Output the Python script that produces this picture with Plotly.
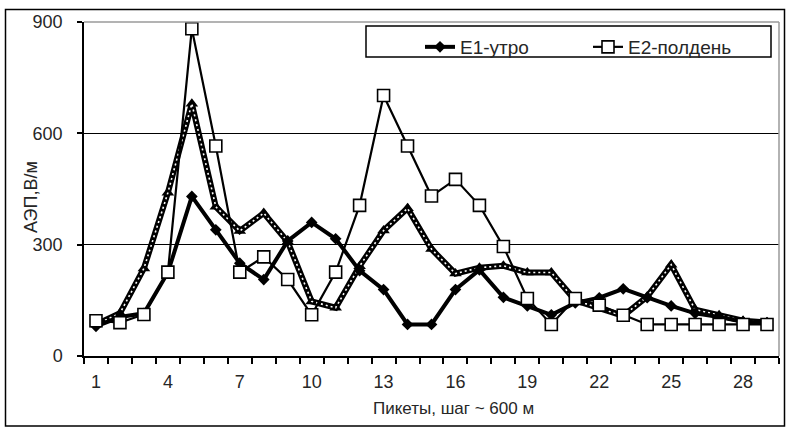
import plotly.graph_objects as go

# ---- data ----
pickets = list(range(1, 30))
e1_morning = [80, 105, 115, 225, 430, 340, 250, 206, 310, 360, 316, 230, 179, 85, 85, 179, 232,
              158, 135, 111, 143, 157, 181, 157, 135, 115, 105, 92, 90]
e2_noon = [95, 90, 112, 226, 882, 566, 226, 267, 206, 111, 226, 406, 702, 566, 431, 476, 406,
           295, 155, 85, 155, 137, 110, 85, 85, 85, 85, 85, 85]
e3_other = [85, 115, 236, 440, 680, 402, 337, 385, 308, 147, 130, 242, 338, 398, 288, 222, 238,
            243, 225, 225, 150, 130, 108, 160, 246, 125, 110, 95, 90]
x_tick_vals = [1, 4, 7, 10, 13, 16, 19, 22, 25, 28]
y_tick_vals = [0, 300, 600, 900]

legend_e1 = "E1-утро"
legend_e2 = "E2-полдень"
x_title = "Пикеты, шаг ~ 600 м"
y_title = "АЭП,В/м"

FONT = "Liberation Sans, Arial, sans-serif"
FS = 18
TXT = "#262626"

fig = go.Figure()

# third series: thick black line with white dotted core, triangles
fig.add_trace(go.Scatter(
    x=pickets, y=e3_other, mode="lines+markers", showlegend=False, name="E3",
    line=dict(color="black", width=6),
    marker=dict(symbol="triangle-up", size=11, color="black"),
))
fig.add_trace(go.Scatter(
    x=pickets, y=e3_other, mode="lines", showlegend=False, name="E3",
    line=dict(color="white", width=1.6, dash="2px,3px"), hoverinfo="skip",
))
fig.add_trace(go.Scatter(
    x=pickets, y=e1_morning, mode="lines+markers", name=legend_e1,
    line=dict(color="black", width=4),
    marker=dict(symbol="diamond", size=9, color="black"),
))
fig.add_trace(go.Scatter(
    x=pickets, y=e2_noon, mode="lines+markers", name=legend_e2,
    line=dict(color="black", width=2.2),
    marker=dict(symbol="square", size=12, color="white", line=dict(color="black", width=1.6)),
))

L, R, T, B = 84, 7, 22, 71
W, H = 786, 427
pw, ph = W - L - R, H - T - B


def px2x(px):
    return (px - L) / pw


def px2y(py):
    return (H - B - py) / ph


fig.update_layout(
    width=W, height=H,
    margin=dict(l=L, r=R, t=T, b=B, pad=0),
    paper_bgcolor="white", plot_bgcolor="white",
    font=dict(family=FONT, size=FS, color=TXT),
    xaxis=dict(
        range=[0.5, 29.5], tickvals=x_tick_vals, ticks="", showgrid=False,
        zeroline=False, showline=True, linecolor="black", linewidth=1.5,
        ticklabelstandoff=9,
        minor=dict(tick0=0.5, dtick=1, ticks="outside", ticklen=6, tickcolor="black",
                   tickwidth=1.5, showgrid=False),
        tickfont=dict(family=FONT, size=FS, color=TXT),
    ),
    yaxis=dict(
        range=[0, 900], tickvals=y_tick_vals, ticks="outside", ticklen=5,
        tickcolor="black", tickwidth=1.5, showgrid=True, gridcolor="black", gridwidth=1,
        zeroline=False, showline=True, linecolor="black", linewidth=1.5,
        ticklabelstandoff=11,
        tickfont=dict(family=FONT, size=FS, color=TXT),
    ),
    legend=dict(
        orientation="h", x=px2x(420), y=px2y(28), xanchor="left", yanchor="top",
        bgcolor="rgba(0,0,0,0)", borderwidth=0, entrywidth=123, entrywidthmode="pixels",
        font=dict(family=FONT, size=19, color=TXT),
    ),
    showlegend=True,
    annotations=[
        dict(text=y_title, xref="paper", yref="paper", x=px2x(31), y=px2y(197),
             textangle=-90, showarrow=False, font=dict(family=FONT, size=FS, color=TXT),
             xanchor="center", yanchor="middle"),
        dict(text=x_title, xref="paper", yref="paper", x=px2x(453), y=px2y(408),
             showarrow=False, font=dict(family=FONT, size=17, color=TXT),
             xanchor="center", yanchor="middle"),
    ],
    shapes=[
        # outer chart frame
        dict(type="rect", xref="paper", yref="paper", x0=px2x(5.5), x1=px2x(784.5),
             y0=px2y(426), y1=px2y(9.5), line=dict(color="black", width=1.5), layer="below"),
        # plot area border (gray top / right)
        dict(type="line", xref="paper", yref="paper", x0=0, x1=1, y0=1, y1=1,
             line=dict(color="#9a9a9a", width=1.5)),
        dict(type="line", xref="paper", yref="paper", x0=1, x1=1, y0=0, y1=1,
             line=dict(color="#9a9a9a", width=1.5)),
        # legend box
        dict(type="rect", xref="paper", yref="paper", x0=px2x(366), x1=px2x(771),
             y0=px2y(57), y1=px2y(26), line=dict(color="black", width=1.5),
             fillcolor="white", layer="below"),
    ],
)

fig.write_html("out.html")
